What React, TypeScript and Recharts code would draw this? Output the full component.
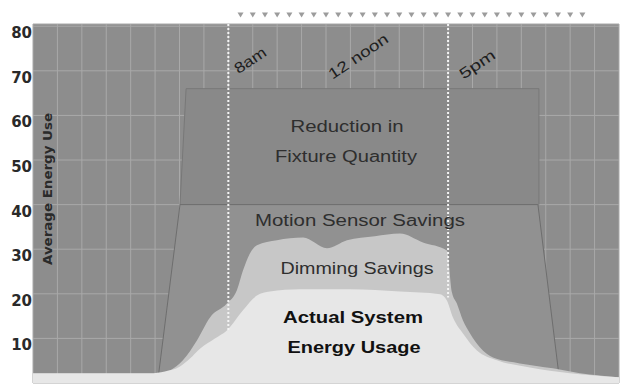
import React from "react";
import {
  ComposedChart,
  Area,
  XAxis,
  YAxis,
  CartesianGrid,
  ReferenceLine,
} from "recharts";

// hours of the day (0 = midnight) and average energy use
const fixtureHours = [6.02, 6.27, 20.72, 20.72];
const fixtureValues = [40, 66, 66, 40];

const motionHours = [5.1, 6.02, 20.68, 21.58];
const motionValues = [0, 40, 40, 0];

const dimmingHours = [
  0, 5.2, 5.61, 6.14, 6.72, 7.25, 7.94, 8.35, 8.6, 8.89, 9.17, 9.99, 11.06,
  12.04, 12.86, 14.0, 15.03, 15.97, 16.95, 17.16, 17.36, 17.61, 17.9, 18.3,
  18.84, 19.94, 21.29, 22.4, 24,
];
const dimmingValues = [
  2.1, 2.1, 2.8, 5.1, 9.6, 14.7, 17.8, 20.8, 25.2, 29.1, 30.9, 32.0, 32.6,
  30.2, 32.0, 32.9, 33.5, 31.5, 29.7, 20.3, 17.8, 14.0, 11.1, 8.0, 5.7, 4.4,
  3.3, 2.2, 1.3,
];

const actualHours = [
  0, 4.79, 5.4, 6.02, 6.43, 6.84, 7.45, 7.94, 8.6, 9.17, 9.7, 10.93, 12.98,
  15.03, 16.67, 16.95, 17.2, 17.61, 18.18, 19.0, 20.35, 21.99, 24,
];
const actualValues = [
  2.2, 2.2, 2.6, 3.7, 5.5, 7.7, 10.0, 11.8, 16.3, 19.6, 20.5, 21.0, 21.0,
  20.5, 19.9, 18.5, 14.7, 11.1, 7.3, 5.1, 3.5, 2.2, 1.3,
];

const gridHours = [
  0, 1, 2, 3, 4, 5, 6, 7, 8, 9, 10, 11, 12, 13, 14, 15, 16, 17, 18, 19, 20,
  21, 22, 23, 24,
];
const markerHours = [
  8.5, 9, 9.5, 10, 10.5, 11, 11.5, 12, 12.5, 13, 13.5, 14, 14.5, 15, 15.5, 16,
  16.5, 17, 17.5, 18, 18.5, 19, 19.5, 20, 20.5, 21, 21.5, 22, 22.5,
];
const yTicks = [10, 20, 30, 40, 50, 60, 70, 80];

// 8am and 5pm markers, down to where actual usage starts
const markerLines = [
  { hour: 8, bottom: 11.8 },
  { hour: 17, bottom: 19.2 },
];

const toPoints = (hours: number[], values: number[]) =>
  hours.map((h, i) => ({ h, v: values[i] }));

const SANS = "'Liberation Sans', Arial, sans-serif";

function YTick({ y, payload }: any) {
  return (
    <text
      x={32}
      y={y + 7}
      textAnchor="end"
      dominantBaseline="central"
      fontFamily="'DejaVu Sans', sans-serif"
      fontWeight="bold"
      fontSize={15}
      fill="#2a2a2a"
    >
      {payload.value}
    </text>
  );
}

function NoTick() {
  return <g />;
}

function Marker({ x }: any) {
  return <path d={`M${x - 3},12.5 L${x + 3},12.5 L${x},17.5 Z`} fill="#9c9c9c" />;
}

function Note({
  x,
  y,
  len,
  bold,
  children,
}: {
  x: number;
  y: number;
  len: number;
  bold?: boolean;
  children: string;
}) {
  return (
    <text
      x={x}
      y={y}
      textAnchor="middle"
      textLength={len}
      lengthAdjust="spacingAndGlyphs"
      fontFamily={SANS}
      fontSize={16}
      fontWeight={bold ? "bold" : "normal"}
      fill={bold ? "#111" : "#2e2e2e"}
    >
      {children}
    </text>
  );
}

function TimeLabel({ x, y, len, children }: { x: number; y: number; len: number; children: string }) {
  return (
    <text
      x={x}
      y={y}
      textAnchor="middle"
      dominantBaseline="central"
      textLength={len}
      lengthAdjust="spacingAndGlyphs"
      transform={`rotate(-34 ${x} ${y})`}
      fontFamily={SANS}
      fontSize={15}
      fill="#1e1e1e"
    >
      {children}
    </text>
  );
}

export default function App() {
  return (
    <div style={{ position: "absolute", left: 0, top: 0, width: 640, height: 390, background: "#fff" }}>
      <ComposedChart width={640} height={390} margin={{ top: 0, right: 21, bottom: 7, left: 0 }}>
        <CartesianGrid fill="#8d8d8d" stroke="#a9a9a9" strokeWidth={1} />
        <XAxis
          type="number"
          dataKey="h"
          domain={[0, 24]}
          allowDataOverflow
          ticks={gridHours}
          interval={0}
          tick={<NoTick />}
          axisLine={false}
          tickLine={false}
          height={0}
        />
        <XAxis
          xAxisId="top"
          orientation="top"
          type="number"
          dataKey="h"
          domain={[0, 24]}
          allowDataOverflow
          ticks={markerHours}
          interval={0}
          tick={<Marker />}
          axisLine={false}
          tickLine={false}
          height={24}
        />
        <YAxis
          type="number"
          domain={[0, 80.5]}
          ticks={yTicks}
          allowDataOverflow
          width={33}
          axisLine={false}
          tickLine={false}
          tick={<YTick />}
        />
        <Area
          data={toPoints(fixtureHours, fixtureValues)}
          dataKey="v"
          type="linear"
          fill="#898989"
          fillOpacity={1}
          stroke="#787878"
          strokeWidth={1}
          isAnimationActive={false}
        />
        <Area
          data={toPoints(motionHours, motionValues)}
          dataKey="v"
          type="linear"
          fill="#919191"
          fillOpacity={1}
          stroke="#6e6e6e"
          strokeWidth={1}
          isAnimationActive={false}
        />
        <Area
          data={toPoints(dimmingHours, dimmingValues)}
          dataKey="v"
          type="monotone"
          fill="#c7c7c7"
          fillOpacity={1}
          stroke="none"
          isAnimationActive={false}
        />
        <Area
          data={toPoints(actualHours, actualValues)}
          dataKey="v"
          type="monotone"
          fill="#e7e7e7"
          fillOpacity={1}
          stroke="none"
          isAnimationActive={false}
        />
        {markerLines.map((m) => (
          <ReferenceLine
            key={m.hour}
            segment={[
              { x: m.hour, y: 80.5 },
              { x: m.hour, y: m.bottom },
            ]}
            stroke="#f4f4f4"
            strokeWidth={2}
            strokeDasharray="2 2"
          />
        ))}
      </ComposedChart>
      <svg
        width={640}
        height={390}
        style={{ position: "absolute", left: 0, top: 0, pointerEvents: "none" }}
      >
        <TimeLabel x={250} y={60} len={35}>8am</TimeLabel>
        <TimeLabel x={358} y={56} len={69}>12 noon</TimeLabel>
        <TimeLabel x={477} y={64} len={40}>5pm</TimeLabel>
        <Note x={347} y={132} len={113}>Reduction in</Note>
        <Note x={346} y={162} len={142}>Fixture Quantity</Note>
        <Note x={360} y={226} len={210}>Motion Sensor Savings</Note>
        <Note x={357} y={274} len={153}>Dimming Savings</Note>
        <Note x={353} y={323} len={140} bold>Actual System</Note>
        <Note x={354} y={353} len={133} bold>Energy Usage</Note>
        <text
          x={48}
          y={189}
          textAnchor="middle"
          dominantBaseline="central"
          transform="rotate(-90 48 189)"
          textLength={152}
          lengthAdjust="spacingAndGlyphs"
          fontFamily="'DejaVu Sans', sans-serif"
          fontWeight="bold"
          fontSize={12}
          fill="#2a2a2a"
        >
          Average Energy Use
        </text>
      </svg>
    </div>
  );
}
